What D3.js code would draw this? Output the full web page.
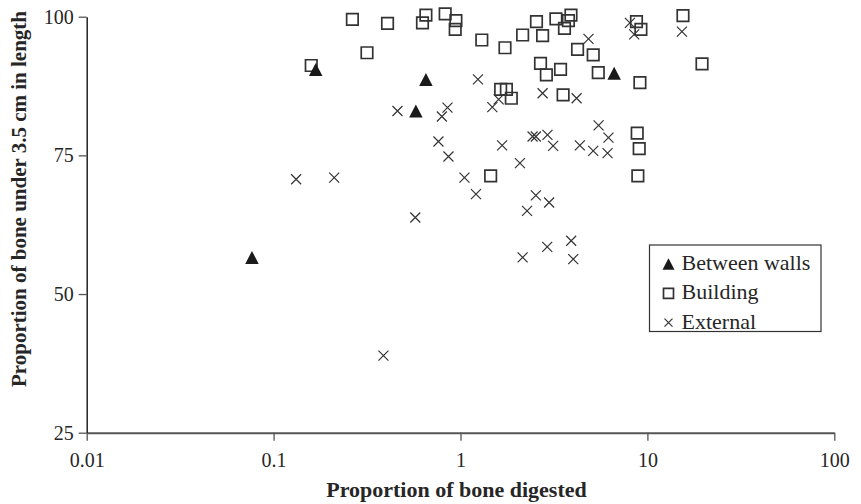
<!DOCTYPE html>
<html>
<head>
<meta charset="utf-8">
<script src="https://cdn.jsdelivr.net/npm/d3@7"></script>
<style>
  body { margin: 0; background: #fff; }
  svg { display: block; font-family: 'Liberation Serif', 'DejaVu Serif', serif; }
</style>
</head>
<body>
<div id="app"></div>
<script>
// data
const categories = ['Between walls', 'Building', 'External'];

const betweenWallsDigested = [0.168, 0.653, 0.577, 6.64, 0.0766];
const betweenWallsUnder35 = [90.5, 88.7, 83.0, 89.8, 56.6];

const buildingDigested = [
  0.159, 0.264, 0.407, 0.316, 0.626, 0.653, 0.828, 0.945, 0.937, 1.30,
  1.73, 2.15, 2.55, 2.75, 3.24, 3.90, 3.78, 3.60, 4.23, 5.13,
  2.68, 2.88, 3.43, 5.46, 8.74, 9.23, 15.5, 19.6, 9.12, 1.64,
  1.76, 1.87, 3.54, 8.82, 9.04, 8.89, 1.45,
];
const buildingUnder35 = [
  91.2, 99.5, 98.8, 93.5, 98.9, 100.3, 100.5, 99.3, 97.7, 95.8,
  94.4, 96.7, 99.1, 96.6, 99.6, 100.3, 99.3, 97.9, 94.1, 93.1,
  91.6, 89.5, 90.5, 89.9, 99.1, 97.7, 100.2, 91.5, 88.1, 86.9,
  86.9, 85.3, 85.9, 79.0, 76.2, 71.3, 71.3,
];

const externalDigested = [
  0.460, 0.852, 0.795, 0.762, 0.862, 0.132, 0.211, 1.24, 1.48, 1.60,
  2.75, 4.18, 4.84, 8.06, 8.50, 15.3, 1.05, 1.21, 1.67, 2.08,
  2.43, 2.53, 2.92, 3.13, 4.35, 5.13, 5.48, 6.19, 6.12, 2.53,
  2.98, 2.27, 3.91, 2.91, 2.15, 4.01, 0.573, 0.387,
];
const externalUnder35 = [
  83.0, 83.6, 82.0, 77.5, 74.8, 70.7, 71.0, 88.7, 83.7, 85.1,
  86.2, 85.3, 96.0, 98.9, 96.8, 97.3, 71.0, 68.0, 76.8, 73.6,
  78.4, 78.4, 78.7, 76.7, 76.8, 75.8, 80.4, 78.2, 75.4, 67.8,
  66.5, 65.0, 59.6, 58.5, 56.6, 56.3, 63.8, 38.9,
];

const xTickValues = [0.01, 0.1, 1, 10, 100];
const xTickLabels = ['0.01', '0.1', '1', '10', '100'];
const yTickValues = [25, 50, 75, 100];
const yTickLabels = ['25', '50', '75', '100'];

const xTitle = 'Proportion of bone digested';
const yTitle = 'Proportion of bone under 3.5 cm in length';

// canvas
const containerWidth = 861;
const containerHeight = 504;
const margin = { top: 16.7, right: 26.7, bottom: 71.3, left: 86.7 };
const width = containerWidth - margin.left - margin.right;
const height = containerHeight - margin.top - margin.bottom;
const ink = '#262626';

const wrapper = d3
  .select('#app')
  .append('svg')
  .attr('width', containerWidth)
  .attr('height', containerHeight);

const bounds = wrapper
  .append('g')
  .attr('transform', `translate(${margin.left},${margin.top})`);

// scales
const xScale = d3.scaleLog().domain([0.01, 100]).range([0, width]);
const yScale = d3.scaleLinear().domain([25, 100]).range([height, 0]);

// axes
const xAxis = bounds
  .append('g')
  .attr('transform', `translate(0,${height})`)
  .call(
    d3
      .axisBottom(xScale)
      .tickValues(xTickValues)
      .tickFormat((d, i) => xTickLabels[i])
      .tickSize(8)
      .tickSizeOuter(0)
      .tickPadding(12)
  );

const yAxis = bounds.append('g').call(
  d3
    .axisLeft(yScale)
    .tickValues(yTickValues)
    .tickFormat((d, i) => yTickLabels[i])
    .tickSize(8)
    .tickSizeOuter(0)
    .tickPadding(5)
);

[xAxis, yAxis].forEach((axis) => {
  axis.attr('font-family', null).attr('font-size', null);
  axis.selectAll('text').attr('font-size', 20).attr('fill', ink);
  axis.selectAll('.tick line').attr('stroke', '#555').attr('stroke-width', 1.3);
});
xAxis.select('.domain').attr('stroke', '#555').attr('stroke-width', 2);
yAxis.select('.domain').attr('stroke', '#222').attr('stroke-width', 1.5);

xAxis
  .append('text')
  .attr('x', width / 2 - 4)
  .attr('y', 64)
  .attr('text-anchor', 'middle')
  .attr('font-size', 22)
  .attr('font-weight', 'bold')
  .attr('fill', ink)
  .text(xTitle);

yAxis
  .append('text')
  .attr('transform', 'rotate(-90)')
  .attr('x', -(199 - margin.top))
  .attr('y', -61)
  .attr('text-anchor', 'middle')
  .attr('font-size', 21)
  .attr('font-weight', 'bold')
  .attr('fill', ink)
  .text(yTitle);

// marker shapes
const trianglePath = (w, h) => `M0,${-h / 2}L${w / 2},${h / 2}L${-w / 2},${h / 2}Z`;
const squarePath = (s) => `M${-s / 2},${-s / 2}h${s}v${s}h${-s}Z`;
const crossPath = (s) => `M${-s / 2},${-s / 2}L${s / 2},${s / 2}M${-s / 2},${s / 2}L${s / 2},${-s / 2}`;

const markerStyles = {
  'Between walls': (sel, big) =>
    sel.attr('d', big ? trianglePath(13.5, 13) : trianglePath(12, 11.5)).attr('fill', '#1a1a1a'),
  Building: (sel, big) =>
    sel
      .attr('d', squarePath(big ? 11.5 : 10))
      .attr('fill', 'none')
      .attr('stroke', '#333')
      .attr('stroke-width', 1.7),
  External: (sel, big) =>
    sel
      .attr('d', crossPath(big ? 10 : 8))
      .attr('fill', 'none')
      .attr('stroke', '#333')
      .attr('stroke-width', 1.2),
};

const seriesData = [
  { name: categories[1], xs: buildingDigested, ys: buildingUnder35 },
  { name: categories[2], xs: externalDigested, ys: externalUnder35 },
  { name: categories[0], xs: betweenWallsDigested, ys: betweenWallsUnder35 },
];

// points
seriesData.forEach((s) => {
  const pts = s.xs.map((x, i) => ({ x, y: s.ys[i] }));
  bounds
    .append('g')
    .selectAll('path')
    .data(pts)
    .enter()
    .append('path')
    .attr('transform', (d) => `translate(${xScale(d.x)},${yScale(d.y)})`)
    .call(markerStyles[s.name], true);
});

// legend
const legendGroup = wrapper.append('g').attr('transform', 'translate(649.5,245)');
legendGroup
  .append('rect')
  .attr('width', 171.5)
  .attr('height', 86.5)
  .attr('fill', '#fff')
  .attr('stroke', '#333')
  .attr('stroke-width', 1.2);

const legendItems = legendGroup
  .selectAll('.legend-item')
  .data(categories)
  .enter()
  .append('g')
  .attr('class', 'legend-item')
  .attr('transform', (d, i) => `translate(0,${25 + i * 29.3})`);

legendItems.each(function (d) {
  d3.select(this)
    .append('path')
    .attr('transform', 'translate(19,-6)')
    .call(markerStyles[d], false);
});

legendItems
  .append('text')
  .attr('x', 32)
  .attr('font-size', 22)
  .attr('fill', ink)
  .text((d) => d);
</script>
</body>
</html>
